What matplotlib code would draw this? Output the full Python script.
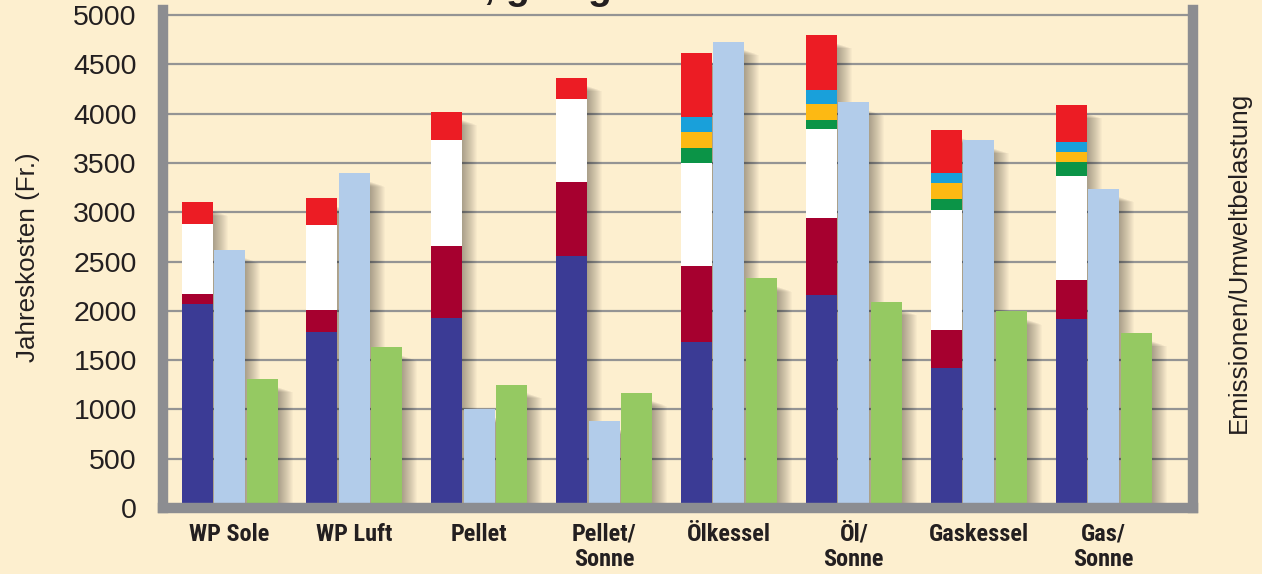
import os
import matplotlib
matplotlib.use("Agg")
import matplotlib.pyplot as plt
from matplotlib.patches import Rectangle
from matplotlib import font_manager
from matplotlib.font_manager import FontProperties
import numpy as np

# ---------------- data ----------------
categories = ["WP Sole", "WP Luft", "Pellet", "Pellet/\nSonne",
              "Ölkessel", "Öl/\nSonne", "Gaskessel", "Gas/\nSonne"]
# stacked annual cost segments (Fr.), bottom to top
seg_blue = [2070, 1785, 1930, 2560, 1680, 2165, 1415, 1915]
seg_darkred = [100, 225, 730, 750, 775, 780, 395, 395]
seg_white = [710, 860, 1070, 840, 1040, 900, 1215, 1060]
seg_green = [0, 0, 0, 0, 160, 95, 110, 140]
seg_yellow = [0, 0, 0, 0, 155, 160, 165, 105]
seg_cyan = [0, 0, 0, 0, 155, 135, 95, 100]
seg_red = [220, 270, 290, 215, 645, 560, 440, 370]
# emissions / environmental load
emissionen = [2620, 3395, 1000, 880, 4730, 4115, 3730, 3240]
umweltbelastung = [1310, 1630, 1250, 1170, 2330, 2090, 1995, 1775]
yticks = list(range(0, 5001, 500))

# ---------------- style ----------------
BG = "#FDEFCF"
AXGRAY = "#8C8D91"
GRID = "#949494"
TXT = "#231F20"
C_BLUE = "#3B3B95"
C_DRED = "#A6002F"
C_WHITE = "#FFFFFF"
C_GREEN = "#0B9447"
C_YEL = "#FDB913"
C_CYAN = "#19A0DA"
C_RED = "#EC1C24"
C_LB = "#B2CCEA"
C_LG = "#95C962"

avail = {f.name for f in font_manager.fontManager.ttflist}
REG = "Liberation Sans" if "Liberation Sans" in avail else "DejaVu Sans"


def find_condensed_bold():
    cands = []
    for f in font_manager.fontManager.ttflist:
        fn = os.path.basename(f.fname).lower()
        nm = f.name.lower()
        st = f.stretch
        cond = ("narrow" in nm or "condensed" in nm or "narrow" in fn or "condensed" in fn
                or st in ("condensed", "semi-condensed", "extra-condensed", "ultra-condensed")
                or (isinstance(st, (int, float)) and st < 500))
        if "semicondensed" in fn or "semi-condensed" in str(st) or "extracondensed" in fn:
            cond = False
        w = f.weight
        bold = (w in ("bold", "semibold", "demibold") or
                (isinstance(w, (int, float)) and 600 <= w <= 700) or
                fn.endswith("bold.ttf") or "-bold" in fn or "condensedbold" in fn)
        if "extrabold" in fn or "semibold" in fn or "black" in fn:
            bold = False
        if "italic" in fn or "oblique" in fn:
            continue
        if cond and bold:
            cands.append(f)
    prio = ["liberationsansnarrow", "robotocondensed", "roboto", "notosans",
            "opensans", "lato", "inter", "dejavu"]

    def key(f):
        fn = os.path.basename(f.fname).lower().replace("-", "").replace("_", "")
        for i, p in enumerate(prio):
            if p in fn:
                return i
        return len(prio)
    cands.sort(key=key)
    return cands[0].fname if cands else None


cond_file = find_condensed_bold()
if cond_file:
    xlab_fp = FontProperties(fname=cond_file, size=17.5)
else:
    xlab_fp = FontProperties(family=REG, weight="bold", size=14.5)

W, H = 1262, 574
fig = plt.figure(figsize=(W / 100, H / 100), dpi=100, facecolor=BG)

ax_left_px, ax_right_px = 162.5, 1193
ax_bot_px, ax_top_px = 508, 10
ax = fig.add_axes([ax_left_px / W, (H - ax_bot_px) / H,
                   (ax_right_px - ax_left_px) / W, (ax_bot_px - ax_top_px) / H])
ax.set_facecolor(BG)

x0_px, pitch_px = 229.5, 124.86
xmin = (ax_left_px - x0_px) / pitch_px
xmax = (ax_right_px - x0_px) / pitch_px
ymax = (ax_bot_px - ax_top_px) * 500 / 49.3
ax.set_xlim(xmin, xmax)
ax.set_ylim(0, ymax)

px_x = 1 / pitch_px
px_y = ymax / (ax_bot_px - ax_top_px)

bw = 31 * px_x
step = 32.5 * px_x
x = np.arange(len(categories))


def shadow(xc, top):
    for s in range(1, 16):
        left = xc + bw / 2 - 2 * px_x
        right = xc + bw / 2 + s * px_x
        t = top - (8 + 0.35 * s) * px_y
        if t > 0:
            ax.add_patch(Rectangle((left, 0), right - left, t, facecolor="black",
                                   alpha=0.024, lw=0, zorder=2))


stack_tops = np.sum([seg_blue, seg_darkred, seg_white, seg_green,
                     seg_yellow, seg_cyan, seg_red], axis=0)
for i in range(len(categories)):
    shadow(x[i] - step, stack_tops[i])
    shadow(x[i], emissionen[i])
    shadow(x[i] + step, umweltbelastung[i])

bottom = np.zeros(len(categories))
for seg, col in [(seg_blue, C_BLUE), (seg_darkred, C_DRED), (seg_white, C_WHITE),
                 (seg_green, C_GREEN), (seg_yellow, C_YEL), (seg_cyan, C_CYAN),
                 (seg_red, C_RED)]:
    ax.bar(x - step, seg, bw, bottom=bottom, color=col, lw=0, zorder=3)
    bottom += np.array(seg)

ax.bar(x, emissionen, bw, color=C_LB, lw=0, zorder=3)
ax.bar(x + step, umweltbelastung, bw, color=C_LG, lw=0, zorder=3)

# grid
ax.set_axisbelow(True)
ax.yaxis.grid(True, color=GRID, lw=1.6)
ax.xaxis.grid(False)

# spines
for side in ["left", "bottom", "right"]:
    ax.spines[side].set_color(AXGRAY)
    ax.spines[side].set_linewidth(7.5)
    ax.spines[side].set_zorder(5)
    ax.spines[side].set_capstyle("projecting")
ax.spines["top"].set_visible(False)

ax.set_yticks(yticks)
ax.set_yticklabels([str(v) for v in yticks])
ax.tick_params(axis="y", length=0, pad=18.5, labelsize=20.5, labelcolor=TXT)
for lab in ax.get_yticklabels():
    lab.set_fontfamily(REG)

ax.set_xticks(x)
ax.set_xticklabels(categories)
ax.tick_params(axis="x", length=0, pad=10.5, labelcolor=TXT)
for lab in ax.get_xticklabels():
    lab.set_fontproperties(xlab_fp)
    lab.set_linespacing(1.15)

fig.text(28 / W, 1 - 257.5 / H, "Jahreskosten (Fr.)", rotation=90, ha="center",
         va="center", fontsize=18.7, color=TXT, family=REG)
fig.text(1239 / W, 1 - 262 / H, "Emissionen/Umweltbelastung", rotation=90,
         ha="center", va="center", fontsize=18.7, color=TXT, family=REG)

# cut-off title remnant at the very top edge (as in the reference)
for xp, s in [(483, ","), (505, "g"), (587, "g")]:
    fig.text(xp / W, 1 + 1 / H, s, ha="left", va="baseline", fontsize=28,
             fontweight="bold", color=TXT, family=REG)

fig.savefig("out.png", dpi=100, facecolor=BG)
